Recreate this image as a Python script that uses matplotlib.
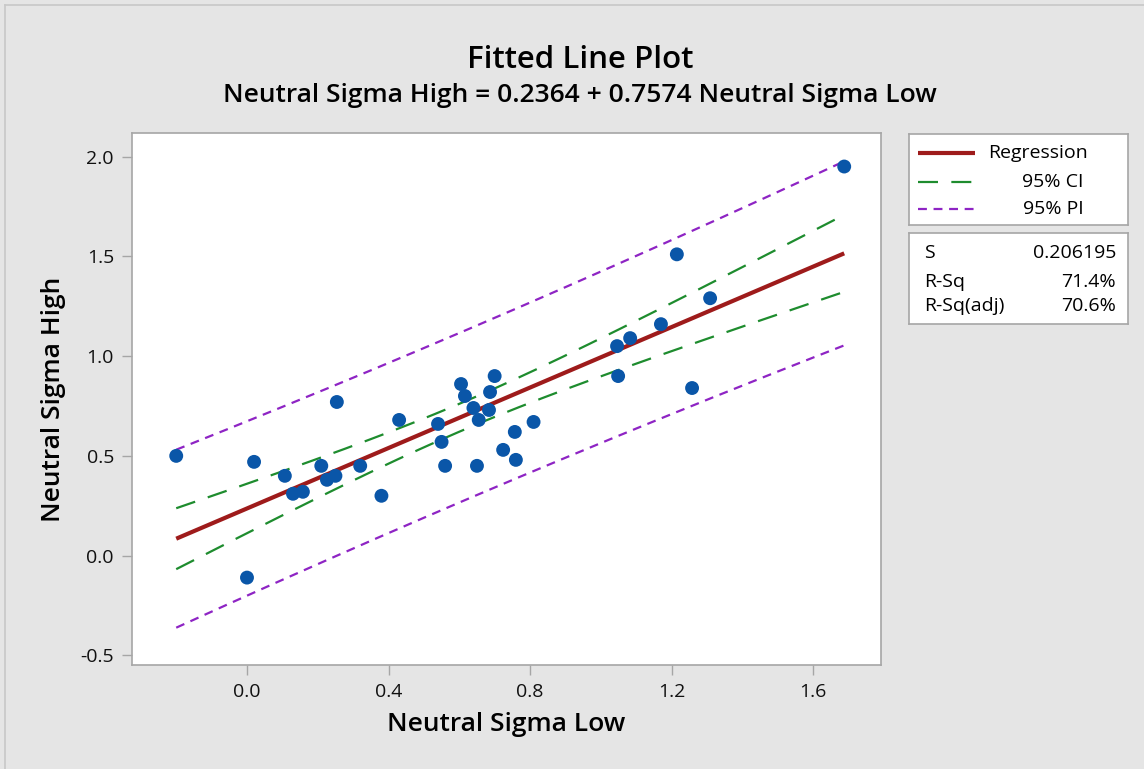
import numpy as np
import matplotlib
matplotlib.use('Agg')
import matplotlib.pyplot as plt
from matplotlib.lines import Line2D

plt.rcParams['font.family'] = ['Open Sans', 'DejaVu Sans']

# observed data (Neutral Sigma Low, Neutral Sigma High)
sigma_low = [-0.20, 0.00, 0.02, 0.107, 0.13, 0.158, 0.21, 0.226, 0.25, 0.254,
             0.32, 0.38, 0.43, 0.54, 0.55, 0.56, 0.605, 0.616, 0.64, 0.655,
             0.65, 0.684, 0.687, 0.70, 0.724, 0.757, 0.76, 0.81, 1.046, 1.049,
             1.083, 1.17, 1.215, 1.258, 1.309, 1.688]
sigma_high = [0.50, -0.11, 0.47, 0.40, 0.31, 0.32, 0.45, 0.38, 0.40, 0.77,
              0.45, 0.30, 0.68, 0.66, 0.57, 0.45, 0.86, 0.80, 0.74, 0.68,
              0.45, 0.73, 0.82, 0.90, 0.53, 0.62, 0.48, 0.67, 1.05, 0.90,
              1.09, 1.16, 1.51, 0.84, 1.29, 1.95]

# fit summary as reported
intercept = 0.2364
slope = 0.7574
s_value = 0.206195
stat_names = ['S', 'R-Sq', 'R-Sq(adj)']
stat_values = ['0.206195', '71.4%', '70.6%']
t_crit = 2.032  # t(0.975, n-2)

x_ticks = [0.0, 0.4, 0.8, 1.2, 1.6]
y_ticks = [-0.5, 0.0, 0.5, 1.0, 1.5, 2.0]

BG = '#e5e5e5'
SPINE = '#a6a6a6'
RED = '#9e1b1b'
GREEN = '#1e8c2e'
PURPLE = '#8e24c4'
BLUE = '#0a56a8'

W, H = 1144, 769


def fig_rect(x0, y0, x1, y1):
    """Pixel box (top-left origin) to figure fraction rect."""
    return [x0 / W, 1 - y1 / H, (x1 - x0) / W, (y1 - y0) / H]


fig = plt.figure(figsize=(W / 100, H / 100), dpi=100, facecolor=BG)

# thin frame at top-left of the graph region
fig.add_artist(Line2D([5 / W, 1], [1 - 5 / H, 1 - 5 / H], color='#c8c8c8', lw=1.2))
fig.add_artist(Line2D([5 / W, 5 / W], [0, 1 - 5 / H], color='#c8c8c8', lw=1.2))

ax = fig.add_axes(fig_rect(132, 133, 881, 665))
ax.set_facecolor('white')

x = np.array(sigma_low)
y = np.array(sigma_high)
n = len(x)
xbar = x.mean()
sxx = ((x - xbar) ** 2).sum()

xs = np.linspace(x.min(), x.max(), 200)
fit = intercept + slope * xs
se_mean = s_value * np.sqrt(1.0 / n + (xs - xbar) ** 2 / sxx)
se_pred = s_value * np.sqrt(1.0 + 1.0 / n + (xs - xbar) ** 2 / sxx)

ax.plot(xs, fit + t_crit * se_pred, color=PURPLE, lw=1.6, dashes=(4, 3))
ax.plot(xs, fit - t_crit * se_pred, color=PURPLE, lw=1.6, dashes=(4, 3))
ax.plot(xs, fit + t_crit * se_mean, color=GREEN, lw=1.6, dashes=(9, 6))
ax.plot(xs, fit - t_crit * se_mean, color=GREEN, lw=1.6, dashes=(9, 6))
ax.plot(xs, fit, color=RED, lw=3.0, solid_capstyle='butt')
ax.scatter(x, y, s=100, color=BLUE, zorder=5, edgecolors='none')

ax.set_xlim(-0.325, 1.792)
ax.set_ylim(-0.548, 2.118)
ax.set_xticks(x_ticks)
ax.set_xticklabels(['%.1f' % v for v in x_ticks])
ax.set_yticks(y_ticks)
ax.set_yticklabels(['%.1f' % v for v in y_ticks])
for sp in ax.spines.values():
    sp.set_color(SPINE)
    sp.set_linewidth(1.2)
ax.tick_params(direction='out', length=7, width=1.0, color=SPINE,
               labelsize=14, labelcolor='#111111', pad=6)

ax.set_xlabel('Neutral Sigma Low', fontsize=19, fontweight='semibold', labelpad=8)
ax.set_ylabel('Neutral Sigma High', fontsize=19, fontweight='semibold', labelpad=10)

fig.text(580 / W, 1 - 60 / H, 'Fitted Line Plot', ha='center', va='center',
         fontsize=22.5, fontweight='semibold')
fig.text(580 / W, 1 - 96 / H, 'Neutral Sigma High = 0.2364 + 0.7574 Neutral Sigma Low',
         ha='center', va='center', fontsize=19, fontweight='semibold')

# legend box
lax = fig.add_axes(fig_rect(909, 134, 1128, 225))
lax.set_xlim(909, 1128)
lax.set_ylim(225, 134)
lax.set_xticks([])
lax.set_yticks([])
for sp in lax.spines.values():
    sp.set_color(SPINE)
    sp.set_linewidth(1.2)
lax.plot([918, 975], [153, 153], color=RED, lw=3.0, solid_capstyle='butt')
lax.plot([918, 975], [182, 182], color=GREEN, lw=1.6, dashes=(9, 6))
lax.plot([918, 975], [209, 209], color=PURPLE, lw=1.6, dashes=(4, 3))
lax.text(988, 153, 'Regression', va='center', ha='left', fontsize=14)
lax.text(1084, 182, '95% CI', va='center', ha='right', fontsize=14)
lax.text(1084, 209, '95% PI', va='center', ha='right', fontsize=14)

# statistics box
sax = fig.add_axes(fig_rect(909, 233, 1128, 324))
sax.set_xlim(909, 1128)
sax.set_ylim(324, 233)
sax.set_xticks([])
sax.set_yticks([])
for sp in sax.spines.values():
    sp.set_color(SPINE)
    sp.set_linewidth(1.2)
for name, val, yy in zip(stat_names, stat_values, [253, 282, 306]):
    sax.text(924, yy, name, va='center', ha='left', fontsize=14)
    sax.text(1116, yy, val, va='center', ha='right', fontsize=14)

fig.savefig('out.png', dpi=100, facecolor=BG)
